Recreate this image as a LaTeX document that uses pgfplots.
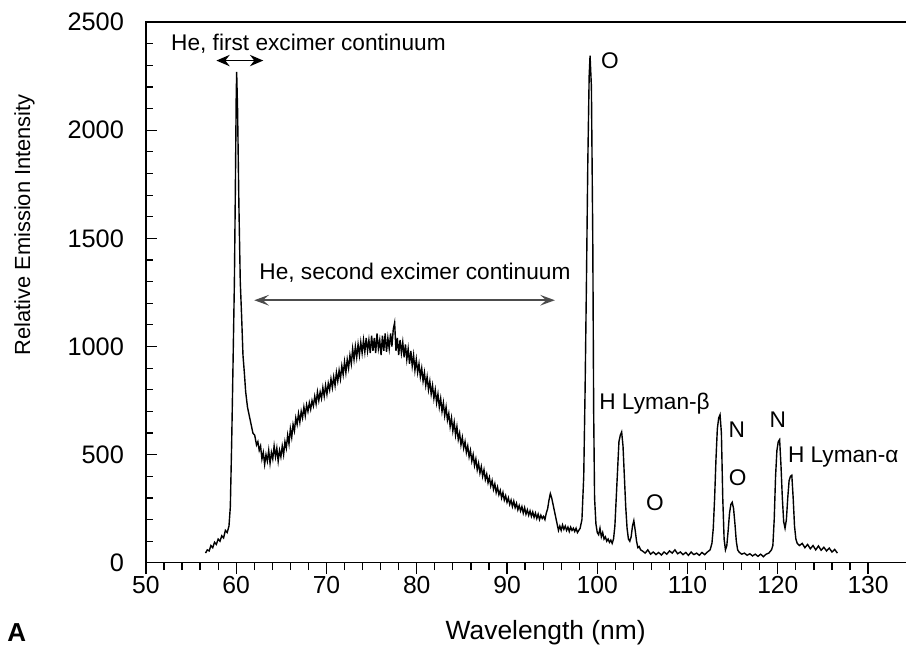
\documentclass[border=0pt]{standalone}
\usepackage{fontspec}
\setmainfont{Liberation Sans}
\usepackage{pgfplots}
\pgfplotsset{compat=1.18}
\usetikzlibrary{arrows.meta}

\begin{document}
\begin{tikzpicture}
\begin{axis}[
    scale only axis,
    width=575.7pt, height=405.75pt,
    xmin=50, xmax=135,
    ymin=0, ymax=2500,
    axis line style={line width=0.9pt, black},
    xtick={50,60,...,130},
    ytick={0,500,...,2500},
    minor x tick num=4,
    minor y tick num=4,
    xtick pos=bottom,
    ytick pos=left,
    xtick align=outside,
    ytick align=inside,
    major tick length=8.5pt, minor tick length=5.5pt,
    tick style={line width=0.9pt, black},
    /pgf/number format/assume math mode=true,
    /pgf/number format/1000 sep={},
    scaled ticks=false,
    xticklabel style={font=\fontsize{18.5}{20}\selectfont, yshift=2pt},
    yticklabel style={font=\fontsize{19}{21}\selectfont, xshift=-13pt},
    xlabel={Wavelength (nm)},
    ylabel={Relative Emission Intensity},
    xlabel style={font=\fontsize{19.8}{22}\selectfont, at={(axis description cs:0.521,-0.129)}, anchor=center},
    ylabel style={font=\fontsize{16.4}{19}\selectfont, at={(axis description cs:-0.1584,0.625)}, anchor=center},
    clip=false,
]
% spectrum
\addplot[black, line width=1.05pt] table {
56.6 45
56.8 60
57.0 55
57.2 80
57.4 70
57.6 95
57.8 85
58.0 110
58.2 100
58.4 125
58.6 115
58.8 150
59.0 140
59.2 170
59.35 260
59.5 560
59.6 800
59.7 1050
59.8 1300
59.9 1700
60.0 2150
60.05 2270
60.15 2100
60.3 1650
60.45 1300
60.6 1140
60.75 960
60.9 880
61.05 790
61.25 720
61.45 680
61.65 640
61.85 600
62.05 590
62.25 545
62.4 560
62.55 520
62.7 540
62.85 480
63.0 510
63.15 455
63.3 500
63.45 470
63.6 520
63.75 460
63.9 510
64.05 480
64.2 540
64.35 490
64.5 530
64.65 470
64.8 520
64.95 490
65.1 540
65.25 500
65.4 560
65.55 530
65.7 590
65.85 550
66.0 620
66.15 580
66.3 640
66.45 610
66.6 670
66.75 640
66.9 690
67.05 650
67.2 700
67.35 670
67.5 720
67.65 680
67.8 730
67.95 700
68.1 740
68.25 710
68.4 750
68.55 725
68.7 770
68.85 735
69.0 790
69.15 750
69.3 790
69.45 760
69.6 810
69.75 770
69.9 820
70.05 780
70.2 830
70.35 800
70.5 850
70.65 810
70.8 860
70.95 820
71.1 880
71.25 840
71.4 890
71.55 850
71.7 910
71.85 870
72.0 930
72.15 880
72.3 940
72.45 900
72.6 960
72.75 920
72.9 990
73.05 940
73.2 1000
73.35 950
73.5 1010
73.65 960
73.8 1020
73.95 970
74.1 1030
74.25 975
74.4 1040
74.55 980
74.7 1030
74.85 970
75.0 1050
75.15 980
75.3 1040
75.45 970
75.6 1060
75.75 990
75.9 1030
76.05 960
76.2 1050
76.35 980
76.5 1060
76.65 975
76.8 1040
76.95 990
77.1 1060
77.25 1000
77.4 1080
77.55 1110
77.7 980
77.85 1040
78.0 960
78.15 1030
78.3 970
78.45 1020
78.6 950
78.75 1010
78.9 940
79.05 990
79.2 920
79.35 980
79.5 910
79.65 960
79.8 890
79.95 940
80.1 880
80.25 920
80.4 860
80.55 900
80.7 840
80.85 880
81.0 820
81.15 860
81.3 800
81.45 840
81.6 780
81.75 820
81.9 760
82.05 800
82.2 740
82.35 780
82.5 720
82.65 760
82.8 700
82.95 740
83.1 680
83.25 720
83.4 660
83.55 690
83.7 630
83.85 670
84.0 610
84.15 650
84.3 590
84.45 630
84.6 570
84.75 600
84.9 545
85.05 580
85.2 530
85.35 560
85.5 510
85.65 540
85.8 490
85.95 520
86.1 470
86.25 500
86.4 450
86.55 480
86.7 430
86.85 460
87.0 415
87.15 445
87.3 400
87.45 430
87.6 385
87.75 410
87.9 370
88.05 395
88.2 355
88.35 380
88.5 340
88.65 365
88.8 325
88.95 350
89.1 315
89.25 335
89.4 300
89.55 325
89.7 290
89.85 310
90.0 280
90.15 300
90.3 270
90.45 290
90.6 260
90.75 285
90.9 255
91.05 275
91.2 245
91.35 265
91.5 240
91.65 260
91.8 230
91.95 255
92.1 225
92.25 245
92.4 220
92.55 240
92.7 215
92.85 235
93.0 210
93.15 230
93.3 205
93.45 225
93.6 200
93.75 220
93.9 205
94.05 215
94.2 200
94.35 230
94.5 250
94.65 290
94.8 320
94.95 300
95.1 270
95.25 240
95.4 210
95.55 180
95.7 150
95.85 170
96.0 150
96.15 175
96.3 155
96.45 170
96.6 150
96.75 165
96.9 145
97.05 165
97.2 150
97.35 160
97.5 145
97.65 160
97.8 140
97.95 150
98.1 160
98.3 200
98.5 400
98.65 800
98.8 1300
98.95 1850
99.1 2250
99.2 2345
99.35 2200
99.5 1500
99.6 700
99.7 300
99.85 180
100.0 140
100.15 130
100.3 160
100.45 120
100.6 140
100.75 110
100.9 120
101.05 100
101.2 110
101.35 95
101.5 105
101.65 90
101.8 110
101.95 170
102.1 300
102.25 430
102.4 560
102.55 590
102.7 605
102.85 540
103.0 400
103.15 260
103.3 160
103.45 110
103.6 100
103.75 120
103.9 170
104.05 195
104.2 150
104.35 100
104.5 70
104.65 75
104.8 60
105.0 55
105.3 45
105.6 60
105.9 40
106.2 50
106.5 38
106.8 48
107.1 36
107.4 50
107.7 40
108.0 55
108.3 45
108.6 60
108.9 42
109.2 50
109.5 38
109.8 48
110.1 35
110.4 50
110.7 38
111.0 45
111.3 35
111.6 48
111.9 38
112.2 50
112.5 60
112.7 90
112.85 160
113.0 300
113.15 480
113.3 620
113.45 670
113.6 685
113.75 600
113.9 300
114.05 110
114.2 60
114.35 80
114.5 150
114.65 230
114.8 270
114.95 280
115.1 250
115.25 180
115.4 100
115.55 60
115.7 50
116.0 40
116.3 45
116.6 35
116.9 42
117.2 32
117.5 40
117.8 30
118.1 40
118.4 28
118.7 40
119.0 45
119.3 60
119.45 80
119.6 200
119.75 400
119.9 520
120.05 560
120.2 570
120.35 450
120.5 300
120.65 190
120.8 160
120.95 200
121.1 300
121.25 380
121.4 400
121.55 405
121.7 300
121.85 170
122.0 110
122.15 90
122.4 80
122.7 90
123.0 70
123.3 85
123.6 65
123.9 80
124.2 60
124.5 78
124.8 58
125.1 72
125.4 55
125.7 68
126.0 50
126.3 62
126.6 45
};
% annotations
\node[font=\fontsize{17}{20}\selectfont, anchor=center] at (axis cs:68.0,2400) {He, first excimer continuum};
\draw[line width=1.2pt, {Stealth[length=10pt,width=8.5pt]}-{Stealth[length=10pt,width=8.5pt]}] (axis cs:57.8,2322) -- (axis cs:63.0,2322);
\node[font=\fontsize{17}{20}\selectfont, anchor=center] at (axis cs:79.8,1339) {He, second excimer continuum};
\draw[line width=1.3pt, gray!60!black, {Stealth[length=11pt,width=8pt,inset=4.5pt]}-{Stealth[length=11pt,width=8pt,inset=4.5pt]}] (axis cs:62.0,1214) -- (axis cs:95.3,1214);
\node[font=\fontsize{17}{20}\selectfont] at (axis cs:101.4,2322) {O};
\node[font=\fontsize{17}{20}\selectfont, anchor=west, inner sep=0pt] at (axis cs:100.2,738) {H Lyman-β};
\node[font=\fontsize{17}{20}\selectfont] at (axis cs:106.4,277) {O};
\node[font=\fontsize{17}{20}\selectfont] at (axis cs:115.45,614) {N};
\node[font=\fontsize{17}{20}\selectfont] at (axis cs:115.56,392) {O};
\node[font=\fontsize{17}{20}\selectfont] at (axis cs:119.99,660) {N};
\node[font=\fontsize{17}{20}\selectfont, anchor=west, inner sep=0pt] at (axis cs:121.1,489) {H Lyman-α};
\node[font=\fontsize{19.5}{22}\selectfont\bfseries] at (axis description cs:-0.1683,-0.128) {A};
% page extent (right frame line falls outside the page)
\coordinate (pagebl) at (axis description cs:-0.1902,-0.153);
\coordinate (pagetr) at (axis cs:134.2,2602);
\end{axis}
\pgfresetboundingbox
\path (pagebl) rectangle (pagetr);
\end{tikzpicture}
\end{document}
